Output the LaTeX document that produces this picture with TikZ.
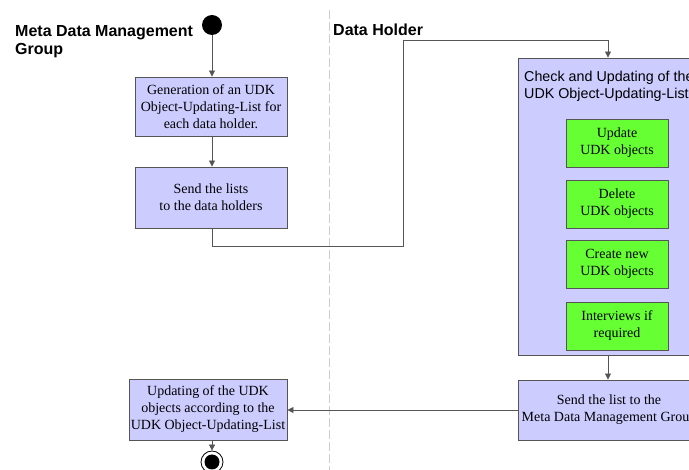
\documentclass[tikz,border=0pt]{standalone}
\usepackage{fontspec}
\setmainfont{Liberation Serif}
\setsansfont{Liberation Sans}
\usetikzlibrary{arrows.meta}
\definecolor{lav}{HTML}{CCCCFF}
\definecolor{grn}{HTML}{66FF33}
\definecolor{edge}{HTML}{555555}
\begin{document}
\begin{tikzpicture}[x=1pt,y=-1pt,
  act/.style={draw=edge,line width=0.9pt,fill=lav,inner sep=0pt,align=center,
    font=\fontsize{14}{17}\selectfont},
  sub/.style={draw=edge,line width=0.9pt,fill=grn,inner sep=0pt,align=center,
    minimum width=102pt,minimum height=48pt,font=\fontsize{14}{17}\selectfont},
  lane/.style={font=\sffamily\bfseries\fontsize{16}{18}\selectfont,align=left,anchor=west,inner sep=0pt},
  flow/.style={draw=edge,line width=0.8pt,-{Triangle[length=6pt,width=6pt]}},
  plain/.style={draw=edge,line width=0.8pt}]
\useasboundingbox (0,0) rectangle (689,470);
\clip (0,0) rectangle (689,470);
\fill[white] (0,0) rectangle (689,470);
% lane separator
\draw[gray!40,line width=1pt,dash pattern=on 9pt off 3pt] (329,10) -- (329,470);
% lane titles
\node[lane] (t1) at (15,41.5) {Meta Data Management\\Group};
\node[lane] (t2) at (333,30) {Data Holder};
% start
\node[circle,fill=black,minimum size=20pt,inner sep=0pt] (start) at (212,25) {};
% left activities
\node[act,minimum width=152pt,minimum height=59pt] (gen) at (211,106.5)
  {Generation of an UDK\\Object-Updating-List for\\each data holder.};
\node[act,minimum width=152pt,minimum height=61pt] (send) at (211,197.5)
  {Send the lists\\to the data holders};
% big box
\node[draw=edge,line width=0.9pt,fill=lav,minimum width=182pt,minimum height=297pt,inner sep=0pt] (check) at (609,206.5) {};
\node[anchor=west,inner sep=0pt,align=left,font=\sffamily\fontsize{14.3}{17}\selectfont] (checkt) at (524,86)
  {Check and Updating of the\\UDK Object-Updating-List};
\node[sub] (upd) at (617,143) {Update\\UDK objects};
\node[sub] (del) at (617,204) {Delete\\UDK objects};
\node[sub] (cre) at (617,264) {Create new\\UDK objects};
\node[sub] (int) at (617,326) {Interviews if\\required};
% send list back
\node[act,minimum width=182pt,minimum height=60pt] (back) at (609,410)
  {Send the list to the\\Meta Data Management Group};
% final update
\node[act,minimum width=158pt,minimum height=61pt] (fin) at (208,409.5)
  {Updating of the UDK\\objects according to the\\UDK Object-Updating-List};
% end
\node[circle,draw=black,fill=white,line width=0.8pt,minimum size=22pt,inner sep=0pt] (end) at (212,462) {};
\node[circle,fill=black,minimum size=15pt,inner sep=0pt] (endin) at (end.center) {};
% connectors
\coordinate (c1) at (212,246);
\coordinate (c2) at (403,246);
\coordinate (c3) at (403,40);
\coordinate (c4) at (608,40);
\draw[flow] (start) -- (start|-gen.north);
\draw[flow] (gen.south-|212,0) -- (send.north-|212,0);
\draw[flow] (send.south-|c1) -- (c1) -- (c2) -- (c3) -- (c4) -- (check.north-|c4);
\draw[flow] (check.south-|c4) -- (back.north-|c4);
\draw[flow] (back.west) -- (fin.east|-back.west);
\draw[flow] (fin.south-|end) -- (end.north);
\end{tikzpicture}
\end{document}
